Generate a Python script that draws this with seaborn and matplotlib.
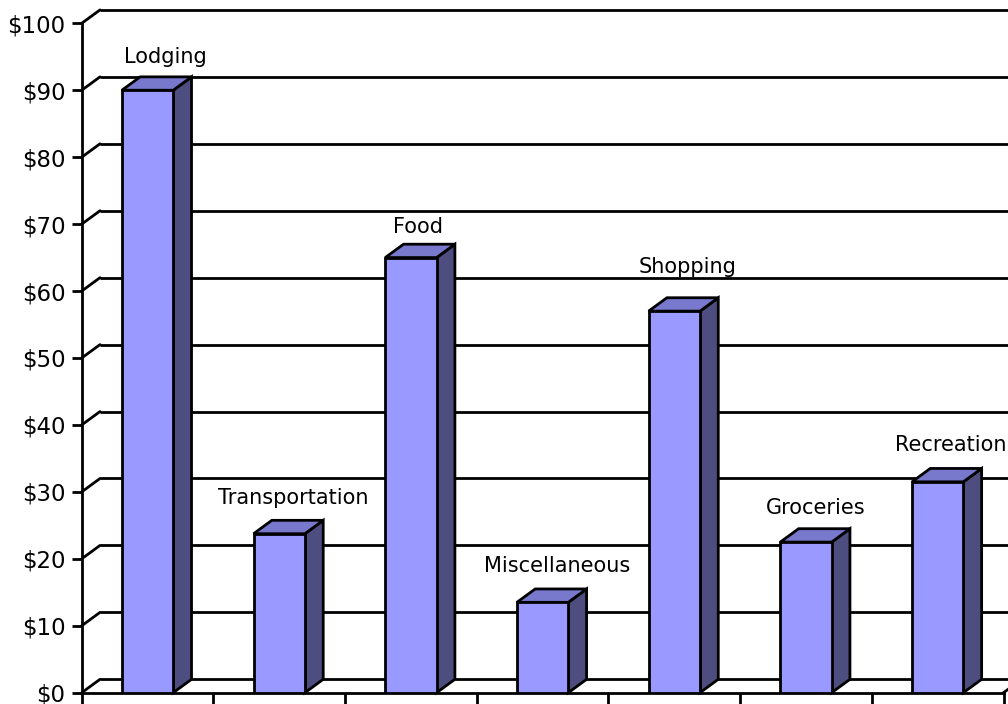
import matplotlib
matplotlib.use("Agg")
import matplotlib.pyplot as plt
from matplotlib.patches import Polygon
from matplotlib.ticker import FixedLocator
import seaborn as sns
import numpy as np

# Spending by category
categories = ["Lodging", "Transportation", "Food", "Miscellaneous",
              "Shopping", "Groceries", "Recreation"]
amounts = [90, 23.75, 65, 13.5, 57, 22.5, 31.5]
y_ticks = [0, 10, 20, 30, 40, 50, 60, 70, 80, 90, 100]
y_tick_labels = ["$" + str(v) for v in y_ticks]

# label placement (points, relative to the top-back of each bar)
label_offsets = [(12.6, 9.8), (10.4, 11.5), (5.4, 7.9), (10.4, 12.2),
                 (9.4, 18.0), (6.8, 10.3), (9.4, 12.7)]

FRONT = "#9999FF"
TOP = "#7878CC"
SIDE = "#4D4D80"
LW = 2.0
DX = 0.139   # depth offset along the category axis
DY = 2.0     # depth offset along the value axis

sns.set_style("white")
plt.rcParams["font.family"] = ["DejaVu Sans"]
plt.rcParams["text.color"] = "black"
plt.rcParams["ytick.color"] = "black"
plt.rcParams["ytick.labelcolor"] = "black"

fig = plt.figure(figsize=(10.08, 7.04), dpi=100)
ax = fig.add_axes([81.7 / 1008, 11.3 / 704, 921.8 / 1008, 669.4 / 704])

sns.barplot(x=categories, y=amounts, color=FRONT, width=0.39,
            edgecolor="black", linewidth=LW, saturation=1, ax=ax, zorder=3)

ax.set_xlim(-0.5, len(categories) - 0.5)
ax.set_ylim(0, 100)

# back wall, left wall edges and floor
x_left, x_right = -0.5, len(categories) - 0.5
for v in y_ticks:
    ax.plot([x_left + DX, x_right + DX + 1], [v + DY, v + DY], color="black",
            lw=LW, clip_on=False, zorder=1, solid_capstyle="butt")
    ax.plot([x_left, x_left + DX], [v, v + DY], color="black", lw=LW,
            clip_on=False, zorder=1)
ax.plot([x_right, x_right + DX], [0, DY], color="black", lw=LW,
        clip_on=False, zorder=1)

# side and top faces of every bar, plus its name above it
for patch, name, (ox, oy) in zip(ax.patches, categories, label_offsets):
    x0 = patch.get_x()
    x1 = x0 + patch.get_width()
    h = patch.get_height()
    side = Polygon([(x1, 0), (x1 + DX, DY), (x1 + DX, h + DY), (x1, h)],
                   closed=True, facecolor=SIDE, edgecolor="black", lw=LW,
                   joinstyle="miter", zorder=2.5, clip_on=False)
    top = Polygon([(x0, h), (x0 + DX, h + DY), (x1 + DX, h + DY), (x1, h)],
                  closed=True, facecolor=TOP, edgecolor="black", lw=LW,
                  joinstyle="miter", zorder=2.5, clip_on=False)
    ax.add_patch(side)
    ax.add_patch(top)
    ax.annotate(name, xy=(x0 + patch.get_width() / 2, h + DY),
                xytext=(ox, oy), textcoords="offset points", ha="center",
                va="baseline", fontsize=15, color="black",
                annotation_clip=False, zorder=4)

# axes styling
for s in ("top", "right"):
    ax.spines[s].set_visible(False)
for s in ("left", "bottom"):
    ax.spines[s].set_color("black")
    ax.spines[s].set_linewidth(LW)
    ax.spines[s].set_zorder(1)

ax.set_yticks(y_ticks)
ax.set_yticklabels(y_tick_labels, fontsize=16.5, color="black")
ax.set_xticks([])
ax.xaxis.set_minor_locator(FixedLocator(np.arange(-0.5, len(categories), 1.0)))
ax.tick_params(axis="y", direction="out", length=7.2, width=LW,
               color="black", pad=4.5, left=True)
ax.tick_params(axis="x", which="minor", direction="out", length=10,
               width=LW, color="black", bottom=True)
ax.set_xlabel("")
ax.set_ylabel("")
ax.grid(False)
ax.set_facecolor("white")
ax.patch.set_alpha(0)

fig.savefig("out.png", dpi=100)
